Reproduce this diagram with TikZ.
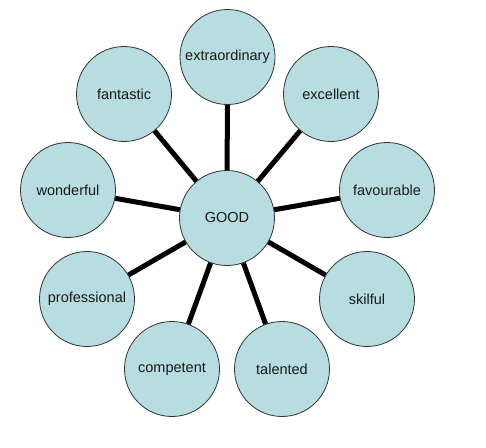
\documentclass[tikz,border=0pt]{standalone}
\usepackage{fontspec}
\setmainfont{Liberation Sans}
\definecolor{bub}{RGB}{184,221,225}
\definecolor{txt}{RGB}{25,25,25}
\tikzset{
  bubble/.style={circle, draw=black!80, line width=0.8pt, fill=bub, minimum size=95pt, inner sep=0pt, text=txt, font=\fontsize{14.5}{16}\selectfont},
  spoke/.style={line width=5pt, black}
}
\begin{document}
\begin{tikzpicture}[x=1pt,y=-1pt]
\useasboundingbox (0,0) rectangle (486,447);
\fill[white] (0,0) rectangle (486,447);
\node[bubble] (good) at (227,218) {GOOD};
\node[bubble] (extra) at (227.5,57) {extraordinary};
\node[bubble] (fant) at (124,94) {fantastic};
\node[bubble] (exc) at (331,94) {excellent};
\node[bubble] (won) at (68,190) {wonderful};
\node[bubble] (fav) at (387,190) {favourable};
\node[bubble] (prof) at (87,299) {professional};
\node[bubble] (skil) at (367,299) {skilful};
\node[bubble] (comp) at (172,369) {competent};
\node[bubble] (tal) at (282,369) {talented};
\foreach \n in {extra,fant,exc,won,fav,prof,skil,comp,tal}{
  \draw[spoke] (good) -- (\n);
}
\end{tikzpicture}
\end{document}
